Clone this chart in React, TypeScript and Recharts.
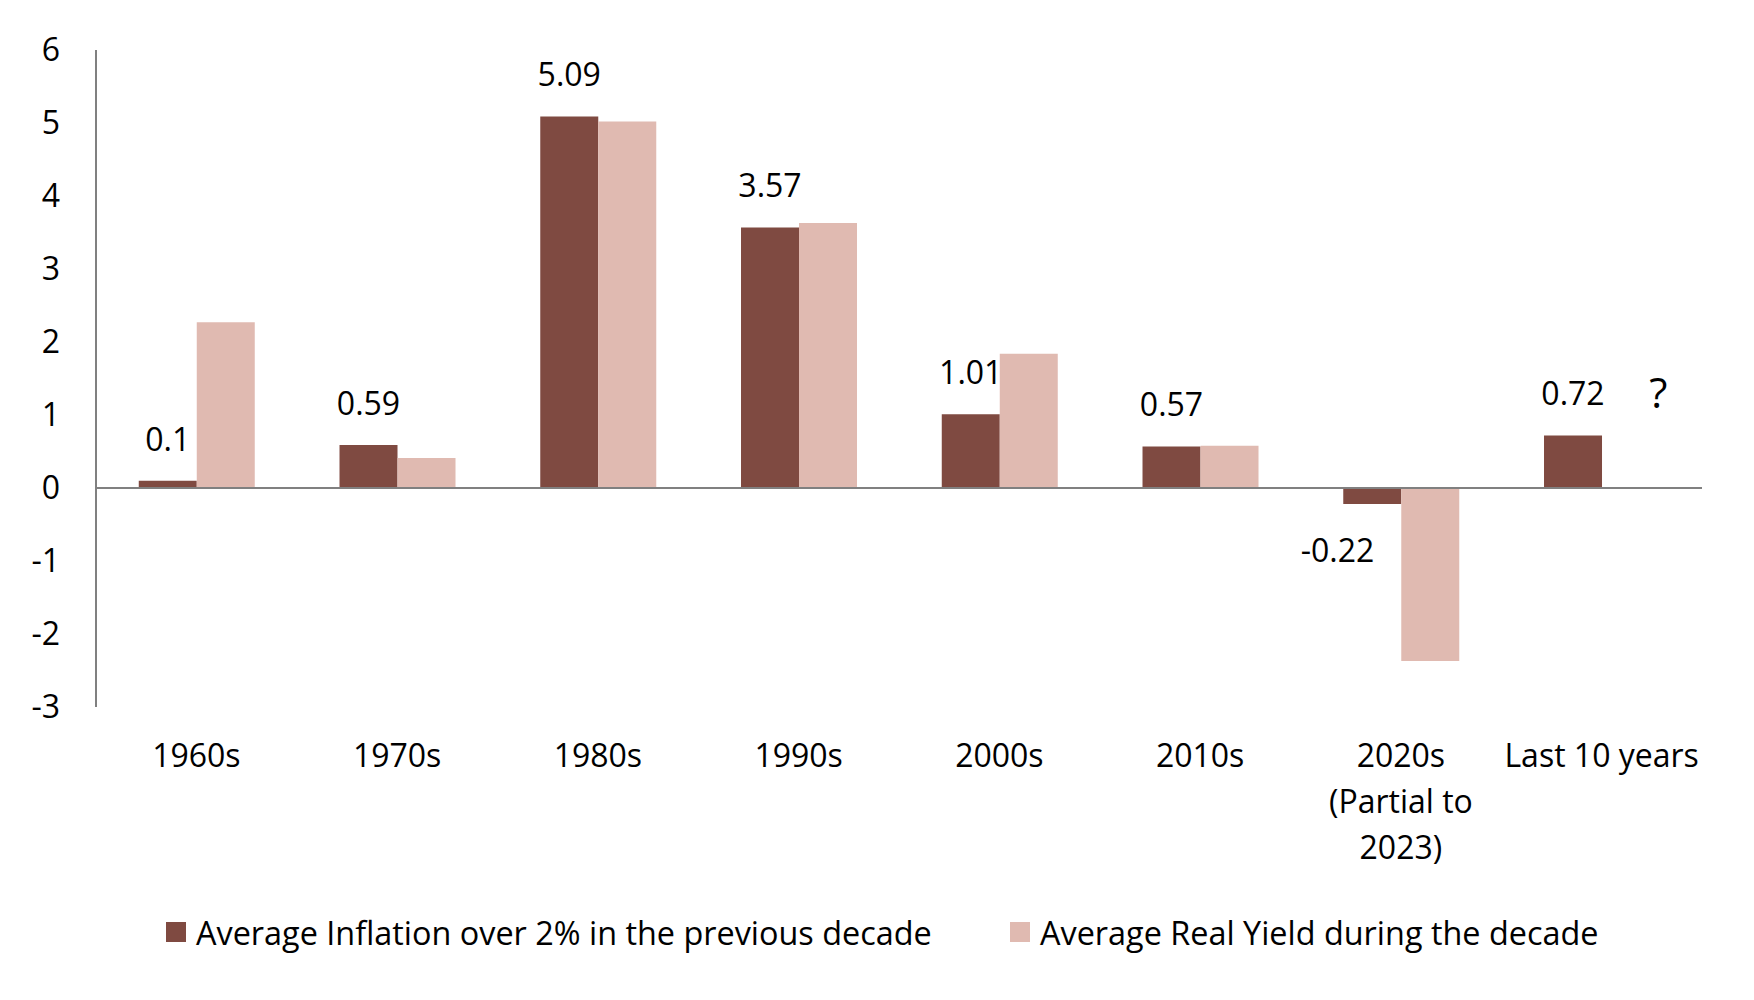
import React from "react";
import { BarChart, Bar, XAxis, YAxis, ReferenceLine, LabelList, Legend } from "recharts";

const categories = ["1960s", "1970s", "1980s", "1990s", "2000s", "2010s", "2020s\n(Partial to\n2023)", "Last 10 years"];
const inflationOver2 = [0.1, 0.59, 5.09, 3.57, 1.01, 0.57, -0.22, 0.72];
const realYield: (number | null)[] = [2.27, 0.41, 5.02, 3.63, 1.84, 0.58, -2.37, null];
const notes = ["", "", "", "", "", "", "", "?"];
const yTicks = [-3, -2, -1, 0, 1, 2, 3, 4, 5, 6];
const seriesNames = ["Average Inflation over 2% in the previous decade", "Average Real Yield during the decade"];

const DARK = "#7F4A41";
const LIGHT = "#E0BAB1";
const AXIS = "#808080";
const FONT = "'Open Sans', sans-serif";

const data = categories.map((c, i) => ({
  name: c,
  inflation: inflationOver2[i],
  real: realYield[i],
  note: notes[i],
}));

const XTick = (props: any) => {
  const { x, y, payload } = props;
  const lines = String(payload.value).split("\n");
  return (
    <text x={x} y={y} textAnchor="middle" fill="#000" fontSize={32} fontFamily={FONT}>
      {lines.map((l, i) => (
        <tspan key={i} x={x} dy={i === 0 ? 60 : 46}>
          {l}
        </tspan>
      ))}
    </text>
  );
};

const ValueLabel = (props: any) => {
  const { x, y, width, height, value, index } = props;
  if (value === null || value === undefined) return null;
  const top = Math.min(y, y + height);
  const bottom = Math.max(y, y + height);
  const cx = value >= 0 ? x + width / 2 : x + width / 2 - width * 0.6;
  const cy = value >= 0 ? top - 41 : bottom + 47;
  const note = notes[index];
  return (
    <g>
      <text x={cx} y={cy} dy={11} textAnchor="middle" fill="#000" fontSize={32} fontFamily={FONT}>
        {String(value)}
      </text>
      {note ? (
        <text x={cx + width * 1.47} y={cy} dy={14} textAnchor="middle" fill="#000" fontSize={42} fontFamily={FONT}>
          {note}
        </text>
      ) : null}
    </g>
  );
};

const LegendContent = () => (
  <div style={{ position: "relative", width: 1754, height: 64, fontFamily: FONT, fontSize: 32.4, color: "#000" }}>
    {[{ c: DARK, left: 166 }, { c: LIGHT, left: 1010 }].map((it, i) => (
      <div key={i} style={{ position: "absolute", left: it.left, top: 0, height: 64, whiteSpace: "nowrap" }}>
        <span style={{ position: "absolute", left: 0, top: 22, width: 20, height: 20, background: it.c }} />
        <span style={{ position: "absolute", left: 30, top: 0, lineHeight: "64px" }}>{seriesNames[i]}</span>
      </div>
    ))}
  </div>
);

export default function App() {
  return (
    <div style={{ position: "absolute", left: 0, top: 0, width: 1754, height: 1000, background: "#fff" }}>
      <BarChart
        width={1754}
        height={1000}
        data={data}
        margin={{ top: 50, right: 52, bottom: 193, left: 0 }}
        barCategoryGap="21.3%"
        barGap={0}
      >
        <YAxis
          domain={[-3, 6]}
          ticks={yTicks}
          type="number"
          width={96}
          axisLine={{ stroke: AXIS, strokeWidth: 2 }}
          tickLine={false}
          tickSize={0}
          tickMargin={36}
          tick={{ fill: "#000", fontSize: 32, fontFamily: FONT }}
          interval={0}
        />
        <XAxis
          dataKey="name"
          height={100}
          axisLine={false}
          tickLine={false}
          tickSize={0}
          tickMargin={0}
          interval={0}
          tick={<XTick />}
        />
        <ReferenceLine y={0} stroke={AXIS} strokeWidth={2} />
        <Bar dataKey="inflation" name={seriesNames[0]} fill={DARK} isAnimationActive={false}>
          <LabelList dataKey="inflation" content={<ValueLabel />} />
        </Bar>
        <Bar dataKey="real" name={seriesNames[1]} fill={LIGHT} isAnimationActive={false} />
        <Legend
          layout="horizontal"
          verticalAlign="middle"
          align="center"
          content={<LegendContent />}
          wrapperStyle={{ top: 900, left: 0, width: 1754, height: 64 }}
        />
      </BarChart>
    </div>
  );
}
